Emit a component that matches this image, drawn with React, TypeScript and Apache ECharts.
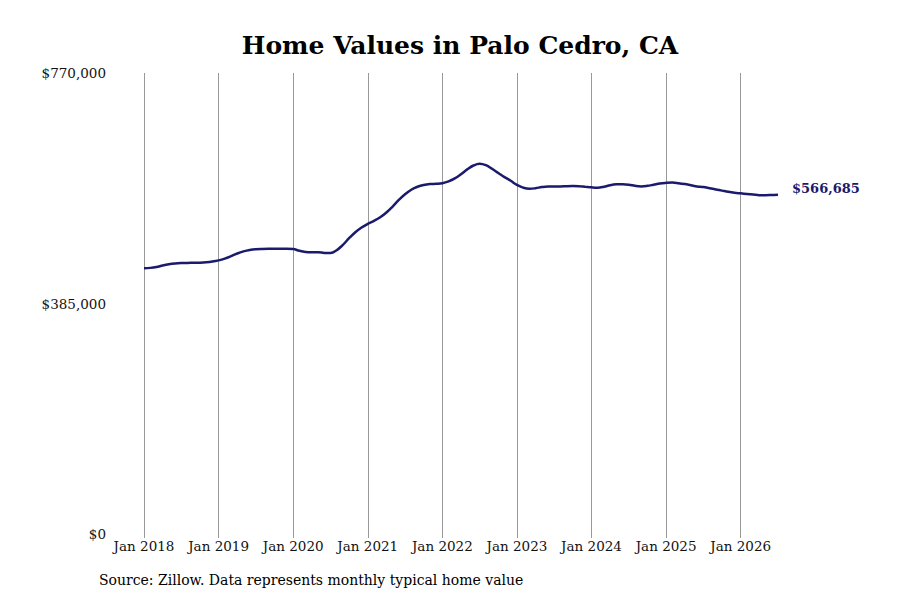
import React, { useEffect, useRef } from 'react';
import * as echarts from 'echarts';

// Monthly typical home value, Jan 2018 – Jul 2026
const values2018 = [443800, 444500, 446000, 448500, 450500, 451800, 452500, 452800, 453000, 453200, 453800, 455000];
const values2019 = [457000, 460000, 464000, 468500, 472000, 474500, 475800, 476200, 476300, 476300, 476400, 476500];
const values2020 = [476000, 473000, 471000, 470500, 470800, 469500, 469200, 474000, 483000, 494000, 504000, 512000];
const values2021 = [518000, 523000, 529000, 537000, 547000, 558000, 567500, 575000, 580000, 583000, 584500, 585000];
const values2022 = [586000, 589000, 594000, 601000, 609000, 615500, 618500, 616000, 610000, 603000, 596000, 590000];
const values2023 = [583000, 578500, 576500, 577500, 579500, 580500, 580500, 580500, 581000, 581200, 581000, 580000];
const values2024 = [579000, 578500, 580000, 582500, 584000, 584300, 583500, 581500, 580500, 581500, 583500, 585500];
const values2025 = [586500, 587000, 586000, 584500, 582500, 580500, 579500, 577500, 575500, 573500, 571500, 570000];
const values2026 = [569000, 568000, 567000, 566000, 565800, 566200, 566685];

const years = [2018, 2019, 2020, 2021, 2022, 2023, 2024, 2025, 2026];
const monthNames = ['Jan', 'Feb', 'Mar', 'Apr', 'May', 'Jun', 'Jul', 'Aug', 'Sep', 'Oct', 'Nov', 'Dec'];

const yTicks = [0, 385000, 770000];

const homeValues = [
  ...values2018, ...values2019, ...values2020, ...values2021, ...values2022,
  ...values2023, ...values2024, ...values2025, ...values2026,
];

const categories = homeValues.map((_, i) => `${monthNames[i % 12]} ${years[Math.floor(i / 12)]}`);

const FONT = '"DejaVu Serif", serif';
const NAVY = '#1b1a6c';

const fmtMoney = (v: number) => '$' + Math.round(v).toLocaleString('en-US');

export default function App() {
  const chartRef = useRef<HTMLDivElement>(null);

  useEffect(() => {
    document.body.style.margin = '0';
    if (!chartRef.current) return;
    const chart = echarts.init(chartRef.current, undefined, { renderer: 'svg' });

    const isJan = (i: number) => i % 12 === 0;

    chart.setOption({
      animation: false,
      backgroundColor: '#ffffff',
      textStyle: { fontFamily: FONT },
      title: {
        text: 'Home Values in Palo Cedro, CA',
        left: 455,
        top: 28,
        textAlign: 'center',
        textStyle: { fontFamily: FONT, fontSize: 25, fontWeight: 'bold', color: '#000' },
      },
      grid: { left: 144, right: 122, top: 73, bottom: 66 },
      xAxis: {
        type: 'category',
        data: categories,
        boundaryGap: false,
        axisLine: { show: false },
        axisTick: {
          show: true,
          length: 4,
          interval: (i: number) => isJan(i),
          lineStyle: { color: '#999' },
        },
        axisLabel: {
          interval: (i: number) => isJan(i),
          formatter: (v: string) => v,
          margin: 5,
          fontFamily: FONT,
          fontSize: 13.5,
          color: '#111',
        },
        splitLine: {
          show: true,
          interval: (i: number) => isJan(i),
          lineStyle: { color: '#999', width: 1 },
        },
      },
      yAxis: {
        type: 'value',
        min: yTicks[0],
        max: yTicks[yTicks.length - 1],
        interval: yTicks[1] - yTicks[0],
        axisLine: { show: false },
        axisTick: { show: false },
        splitLine: { show: false },
        axisLabel: {
          margin: 38,
          fontFamily: FONT,
          fontSize: 13.5,
          color: '#111',
          formatter: (v: number) => fmtMoney(v),
        },
      },
      series: [
        {
          type: 'line',
          data: homeValues,
          smooth: 0.4,
          showSymbol: false,
          lineStyle: { color: NAVY, width: 2.5 },
          endLabel: {
            show: true,
            distance: 14,
            offset: [0, -6],
            formatter: (p: any) => fmtMoney(p.value),
            fontFamily: FONT,
            fontSize: 13,
            fontWeight: 'bold',
            color: NAVY,
          },
        },
      ],
      graphic: [
        {
          type: 'text',
          left: 99,
          top: 573,
          style: {
            text: 'Source: Zillow. Data represents monthly typical home value',
            font: `14px ${FONT}`,
            fill: '#000',
          },
        },
      ],
    });

    return () => {
      chart.dispose();
    };
  }, []);

  return <div ref={chartRef} style={{ width: 900, height: 600 }} />;
}
